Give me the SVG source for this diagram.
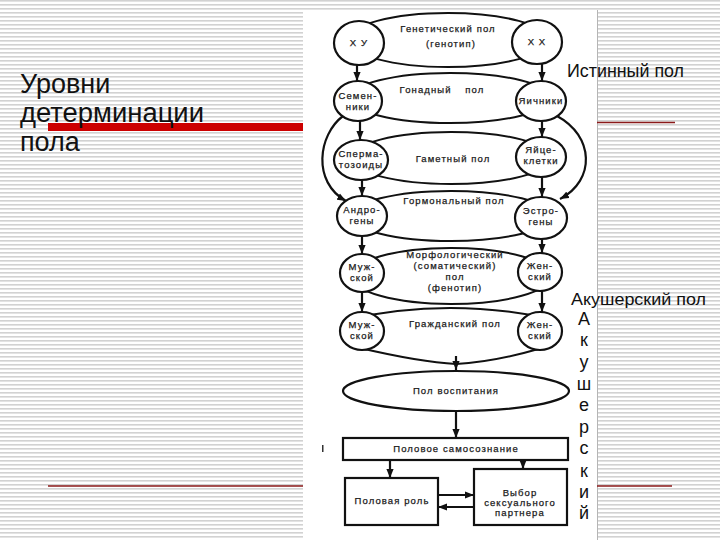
<svg xmlns="http://www.w3.org/2000/svg" width="720" height="540" viewBox="0 0 720 540">
<defs>
<pattern id="stripes" width="8" height="4" patternUnits="userSpaceOnUse">
<rect width="8" height="4" fill="#ffffff"/>
<rect y="0" width="8" height="1.6" fill="#d2d2d2"/>
</pattern>
<marker id="ah" viewBox="0 0 10 8" refX="10" refY="4" markerWidth="9" markerHeight="8" markerUnits="userSpaceOnUse" orient="auto">
<path d="M0,0 L10,4 L0,8 z" fill="#111"/>
</marker>
</defs>
<style>
.ln{fill:none;stroke:#111;stroke-width:2}
.nd{fill:#fff;stroke:#111;stroke-width:2.2}
.ar{fill:none;stroke:#111;stroke-width:2.2;marker-end:url(#ah)}
.t{font-family:"Liberation Sans",Arial,sans-serif;font-size:9.5px;fill:#1a1a1a;text-anchor:middle;letter-spacing:1.1px;stroke:#1a1a1a;stroke-width:0.25}
.big{font-family:"Liberation Sans",Arial,sans-serif;fill:#111}
</style>
<rect width="720" height="540" fill="url(#stripes)"/>
<rect x="303" y="10" width="294" height="530" fill="#fff"/>
<line x1="597.5" y1="10" x2="597.5" y2="540" stroke="#b5b5b5" stroke-width="1"/>
<rect x="48" y="123" width="255" height="8" fill="#cc0000"/>
<line x1="597" y1="122.5" x2="675" y2="122.5" stroke="#8b1a1a" stroke-width="1.5"/>
<line x1="48" y1="486" x2="303" y2="486" stroke="#8b1a1a" stroke-width="1.5"/>
<line x1="597" y1="486" x2="672" y2="486" stroke="#8b1a1a" stroke-width="1.5"/>

<g id="title" class="big" font-size="27">
<text x="20" y="93">Уровни</text>
<text x="20" y="122" textLength="184" lengthAdjust="spacingAndGlyphs">детерминации</text>
<text x="20" y="151">пола</text>
</g>
<g id="label-true" class="big">
<text x="567" y="77" font-size="19" textLength="117" lengthAdjust="spacingAndGlyphs">Истинный пол</text>
</g>
<g id="label-obst" class="big">
<text x="571" y="305" font-size="17" textLength="135" lengthAdjust="spacingAndGlyphs">Акушерский пол</text>
<g font-size="18" text-anchor="middle">
<text x="584" y="325">А</text>
<text x="584" y="346">к</text>
<text x="584" y="368">у</text>
<text x="584" y="390">ш</text>
<text x="584" y="411">е</text>
<text x="584" y="433">р</text>
<text x="584" y="454">с</text>
<text x="584" y="477">к</text>
<text x="584" y="498">и</text>
<text x="584" y="519">й</text>
</g>
</g>

<g id="lenses">
<ellipse class="ln" cx="448" cy="40" rx="100" ry="27"/>
<ellipse class="ln" cx="450" cy="98" rx="100" ry="25"/>
<ellipse class="ln" cx="451" cy="158" rx="100" ry="26"/>
<ellipse class="ln" cx="451" cy="216" rx="100" ry="25"/>
<ellipse class="ln" cx="451" cy="276" rx="100" ry="28"/>
<path class="ln" d="M345,320 Q450,296 556,320"/>
<path class="ln" d="M360,348 Q420,362 456,364 Q494,362 542,348"/>
</g>

<g id="connectors">
<path class="ar" d="M343,116 C318,135 312,182 346,201"/>
<path class="ar" d="M557,116 C594,136 596,180 560,199"/>
<line class="ar" x1="357" y1="65" x2="357" y2="81"/>
<line class="ar" x1="542" y1="64" x2="542" y2="81"/>
<line class="ar" x1="360" y1="121" x2="360" y2="140"/>
<line class="ar" x1="542" y1="121" x2="542" y2="137"/>
<line class="ar" x1="362" y1="180" x2="362" y2="196"/>
<line class="ar" x1="542" y1="177" x2="542" y2="197"/>
<line class="ar" x1="362" y1="236" x2="362" y2="254"/>
<line class="ar" x1="542" y1="239" x2="542" y2="253"/>
<line class="ar" x1="362" y1="292" x2="362" y2="312"/>
<line class="ar" x1="542" y1="291" x2="542" y2="312"/>
<line class="ar" x1="456" y1="356" x2="456" y2="370"/>
<line class="ar" x1="456" y1="411" x2="456" y2="438"/>
<line class="ar" x1="390" y1="460" x2="390" y2="478"/>
<line class="ar" x1="523" y1="460" x2="523" y2="469"/>
<line class="ar" x1="438" y1="495" x2="474" y2="495"/>
<line class="ar" x1="474" y1="507" x2="438" y2="507"/>
</g>

<g id="level-genetic">
<text class="t" x="448" y="32">Генетический пол</text>
<text class="t" x="451" y="47">(генотип)</text>
</g>
<g id="xy"><ellipse class="nd" cx="359" cy="43" rx="25" ry="22"/><text class="t" x="359" y="46">Х У</text></g>
<g id="xx"><ellipse class="nd" cx="537" cy="42" rx="25" ry="22"/><text class="t" x="537" y="45">Х Х</text></g>

<g id="level-gonad"><text class="t" x="442" y="93" word-spacing="10">Гонадный пол</text></g>
<g id="testes"><ellipse class="nd" cx="358" cy="101" rx="24" ry="20"/><text class="t" x="358" y="99">Семен-</text><text class="t" x="358" y="110">ники</text></g>
<g id="ovaries"><ellipse class="nd" cx="541" cy="101" rx="25" ry="20"/><text class="t" x="541" y="104">Яичники</text></g>

<g id="level-gamete"><text class="t" x="453" y="162">Гаметный пол</text></g>
<g id="sperm"><ellipse class="nd" cx="361" cy="160" rx="27" ry="20"/><text class="t" x="361" y="157">Сперма-</text><text class="t" x="361" y="168">тозоиды</text></g>
<g id="ova"><ellipse class="nd" cx="541" cy="157" rx="25" ry="20"/><text class="t" x="541" y="153">Яйце-</text><text class="t" x="541" y="164">клетки</text></g>

<g id="level-hormone"><text class="t" x="454" y="204">Гормональный пол</text></g>
<g id="androgens"><ellipse class="nd" cx="362" cy="216" rx="25" ry="20"/><text class="t" x="362" y="213">Андро-</text><text class="t" x="362" y="224">гены</text></g>
<g id="estrogens"><ellipse class="nd" cx="541" cy="218" rx="26" ry="21"/><text class="t" x="541" y="214">Эстро-</text><text class="t" x="541" y="225">гены</text></g>

<g id="level-morph">
<text class="t" x="455" y="258">Морфологический</text>
<text class="t" x="455" y="269">(соматический)</text>
<text class="t" x="455" y="280">пол</text>
<text class="t" x="455" y="291">(фенотип)</text>
</g>
<g id="male1"><ellipse class="nd" cx="362" cy="273" rx="22" ry="19"/><text class="t" x="362" y="270">Муж-</text><text class="t" x="362" y="281">ской</text></g>
<g id="female1"><ellipse class="nd" cx="540" cy="272" rx="22" ry="19"/><text class="t" x="540" y="269">Жен-</text><text class="t" x="540" y="280">ский</text></g>

<g id="level-civil"><text class="t" x="455" y="327">Гражданский пол</text></g>
<g id="male2"><ellipse class="nd" cx="362" cy="331" rx="22" ry="19"/><text class="t" x="362" y="328">Муж-</text><text class="t" x="362" y="339">ской</text></g>
<g id="female2"><ellipse class="nd" cx="540" cy="331" rx="22" ry="19"/><text class="t" x="540" y="328">Жен-</text><text class="t" x="540" y="339">ский</text></g>

<g id="upbringing"><ellipse class="nd" cx="456" cy="391" rx="113" ry="20"/><text class="t" x="456" y="394">Пол воспитания</text></g>
<g id="identity"><rect class="nd" x="343" y="438" width="225" height="22"/><text class="t" x="456" y="452">Половое самосознание</text></g>
<g id="role"><rect class="nd" x="345" y="478" width="93" height="47"/><text class="t" x="392" y="504">Половая роль</text></g>
<g id="partner"><rect class="nd" x="474" y="469" width="93" height="56"/><text class="t" x="520" y="496">Выбор</text><text class="t" x="520" y="506">сексуального</text><text class="t" x="520" y="516">партнера</text></g>
<rect x="322" y="445" width="1.5" height="7" fill="#333"/>
</svg>
